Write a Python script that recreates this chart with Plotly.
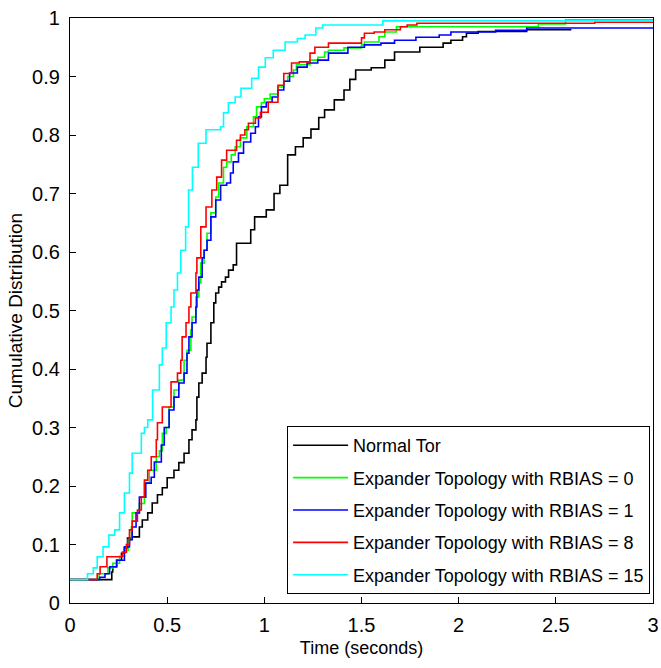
import plotly.graph_objects as go

# ---- data (step CDFs) ----
names = ["Normal Tor",
         "Expander Topology with RBIAS = 0",
         "Expander Topology with RBIAS = 1",
         "Expander Topology with RBIAS = 8",
         "Expander Topology with RBIAS = 15"]
colors = ["#000000", "#00ff00", "#0000ff", "#ff0000", "#00ffff"]

black_x = [0, 0.215, 0.22, 0.24, 0.265, 0.28, 0.296, 0.32, 0.357, 0.372, 0.40, 0.423, 0.45, 0.475, 0.50,
           0.535, 0.56, 0.587, 0.612, 0.628, 0.648, 0.653, 0.663, 0.68, 0.70, 0.705, 0.725, 0.74, 0.75,
           0.765, 0.78, 0.80, 0.816, 0.84, 0.857, 0.93, 0.95, 1.01, 1.05, 1.08, 1.12, 1.16, 1.20, 1.24,
           1.28, 1.31, 1.36, 1.41, 1.44, 1.47, 1.55, 1.62, 1.67, 1.80, 1.92, 1.96, 2.02, 2.04, 2.10,
           2.35, 2.58]
black_y = [0.04, 0.053, 0.062, 0.073, 0.085, 0.094, 0.111, 0.113, 0.13, 0.142, 0.154, 0.171, 0.185, 0.197,
           0.214, 0.227, 0.24, 0.256, 0.279, 0.296, 0.313, 0.352, 0.376, 0.393, 0.42, 0.444, 0.479, 0.513,
           0.53, 0.54, 0.549, 0.557, 0.569, 0.578, 0.615, 0.638, 0.66, 0.672, 0.70, 0.714, 0.766, 0.78,
           0.795, 0.81, 0.83, 0.843, 0.86, 0.877, 0.895, 0.911, 0.915, 0.928, 0.942, 0.95, 0.957, 0.962,
           0.968, 0.974, 0.977, 0.98, 0.98]

green_x = [0, 0.15, 0.195, 0.22, 0.255, 0.28, 0.30, 0.316, 0.32, 0.357, 0.383, 0.408, 0.444, 0.46, 0.475,
           0.495, 0.51, 0.535, 0.56, 0.587, 0.602, 0.622, 0.628, 0.648, 0.663, 0.673, 0.69, 0.705, 0.725,
           0.75, 0.765, 0.79, 0.806, 0.83, 0.85, 0.877, 0.91, 0.944, 0.96, 0.985, 1.0, 1.03, 1.07, 1.10,
           1.12, 1.15, 1.165, 1.235, 1.275, 1.31, 1.33, 1.41, 1.50, 1.515, 1.59, 1.62, 1.68, 2.41, 2.55, 3.0]
green_y = [0.04, 0.05, 0.06, 0.068, 0.08, 0.09, 0.108, 0.13, 0.154, 0.17, 0.205, 0.227, 0.25, 0.26, 0.29,
           0.30, 0.335, 0.364, 0.381, 0.415, 0.432, 0.467, 0.489, 0.523, 0.547, 0.581, 0.603, 0.632, 0.667,
           0.694, 0.718, 0.745, 0.754, 0.766, 0.78, 0.795, 0.814, 0.831, 0.848, 0.855, 0.862, 0.87, 0.882,
           0.892, 0.90, 0.911, 0.92, 0.928, 0.933, 0.942, 0.945, 0.949, 0.954, 0.959, 0.968, 0.976, 0.985,
           0.99, 0.997, 0.997]

blue_x = [0, 0.153, 0.18, 0.204, 0.24, 0.28, 0.306, 0.32, 0.34, 0.357, 0.39, 0.418, 0.434, 0.47, 0.485,
          0.51, 0.535, 0.56, 0.587, 0.602, 0.612, 0.628, 0.648, 0.653, 0.663, 0.68, 0.69, 0.705, 0.725,
          0.75, 0.775, 0.806, 0.826, 0.84, 0.867, 0.893, 0.93, 0.954, 0.97, 0.985, 1.01, 1.04, 1.07, 1.10,
          1.13, 1.17, 1.22, 1.275, 1.33, 1.43, 1.515, 1.60, 1.67, 1.78, 1.90, 1.96, 2.19, 2.35, 3.0]
blue_y = [0.04, 0.044, 0.05, 0.062, 0.073, 0.096, 0.108, 0.13, 0.154, 0.181, 0.205, 0.215, 0.241, 0.27,
          0.30, 0.33, 0.352, 0.376, 0.393, 0.427, 0.455, 0.479, 0.506, 0.535, 0.557, 0.59, 0.603, 0.62,
          0.66, 0.689, 0.714, 0.718, 0.735, 0.754, 0.769, 0.788, 0.803, 0.814, 0.831, 0.848, 0.856, 0.865,
          0.877, 0.892, 0.906, 0.916, 0.923, 0.928, 0.94, 0.95, 0.954, 0.957, 0.962, 0.967, 0.971, 0.976,
          0.979, 0.983, 0.983]

red_x = [0, 0.14, 0.155, 0.19, 0.27, 0.29, 0.306, 0.32, 0.347, 0.367, 0.383, 0.40, 0.418, 0.444, 0.45,
         0.475, 0.52, 0.553, 0.57, 0.577, 0.597, 0.612, 0.622, 0.648, 0.653, 0.673, 0.70, 0.73, 0.755,
         0.78, 0.806, 0.857, 0.877, 0.90, 0.918, 0.954, 0.98, 1.02, 1.07, 1.10, 1.14, 1.18, 1.235, 1.26,
         1.33, 1.50, 1.515, 1.565, 1.62, 1.70, 1.735, 1.785, 2.70, 3.0]
red_y = [0.04, 0.05, 0.062, 0.079, 0.087, 0.10, 0.125, 0.14, 0.159, 0.181, 0.21, 0.227, 0.25, 0.279, 0.308,
         0.335, 0.378, 0.393, 0.415, 0.455, 0.479, 0.506, 0.53, 0.564, 0.59, 0.643, 0.677, 0.706, 0.728,
         0.757, 0.774, 0.791, 0.80, 0.809, 0.82, 0.829, 0.839, 0.856, 0.885, 0.905, 0.923, 0.925, 0.94,
         0.95, 0.957, 0.966, 0.974, 0.976, 0.98, 0.985, 0.988, 0.991, 0.993, 0.993]

cyan_x = [0, 0.09, 0.12, 0.14, 0.17, 0.20, 0.23, 0.255, 0.28, 0.306, 0.32, 0.367, 0.383, 0.40, 0.425, 0.46,
          0.475, 0.495, 0.52, 0.535, 0.553, 0.57, 0.595, 0.61, 0.63, 0.66, 0.70, 0.775, 0.79, 0.815, 0.85,
          0.88, 0.935, 0.97, 1.005, 1.046, 1.107, 1.17, 1.21, 1.265, 1.30, 1.61, 3.0]
cyan_y = [0.04, 0.05, 0.06, 0.079, 0.096, 0.116, 0.125, 0.154, 0.188, 0.222, 0.256, 0.29, 0.30, 0.313, 0.364,
          0.407, 0.436, 0.479, 0.506, 0.535, 0.564, 0.603, 0.643, 0.706, 0.745, 0.786, 0.809, 0.814, 0.838,
          0.855, 0.865, 0.88, 0.897, 0.916, 0.932, 0.945, 0.959, 0.965, 0.971, 0.983, 0.988, 0.995, 0.995]

x_ticks = [0, 0.5, 1, 1.5, 2, 2.5, 3]
y_ticks = [0, 0.1, 0.2, 0.3, 0.4, 0.5, 0.6, 0.7, 0.8, 0.9, 1]

series = [(black_x, black_y), (green_x, green_y), (blue_x, blue_y), (red_x, red_y), (cyan_x, cyan_y)]

FONT = "Liberation Sans, Arial, sans-serif"

fig = go.Figure()
for i, ((xs, ys), name, col) in enumerate(zip(series, names, colors)):
    fig.add_trace(go.Scatter(x=xs, y=ys, mode="lines", name=name, legendgroup=f"g{i}",
                             line=dict(color=col, width=1.6, shape="hv")))

axis_common = dict(showline=True, mirror=True, linecolor="black", linewidth=1.3,
                   ticks="inside", ticklen=6, tickcolor="black", tickwidth=1,
                   showgrid=False, zeroline=False, ticklabeloverflow="allow",
                   automargin=False,
                   tickfont=dict(family=FONT, size=20, color="black"))

fig.update_layout(
    width=661, height=668,
    margin=dict(l=70, r=8, t=18, b=65, autoexpand=False),
    paper_bgcolor="white", plot_bgcolor="white",
    font=dict(family=FONT, color="black"),
    xaxis=dict(range=[0, 3], tickvals=x_ticks, ticklabelstandoff=4,
               title=dict(text="Time (seconds)", font=dict(family=FONT, size=18), standoff=6),
               **axis_common),
    yaxis=dict(range=[0, 1], tickvals=y_ticks, ticklabelstandoff=5,
               title=dict(text="Cumulative Distribution", font=dict(family=FONT, size=19), standoff=4),
               **axis_common),
    legend=dict(x=0.995, y=0.3026, xanchor="right", yanchor="top",
                bgcolor="white", bordercolor="black", borderwidth=1,
                font=dict(family=FONT, size=18, color="black"),
                itemwidth=55, traceorder="grouped", tracegroupgap=6),
    showlegend=True,
)

fig.write_html("out.html")
